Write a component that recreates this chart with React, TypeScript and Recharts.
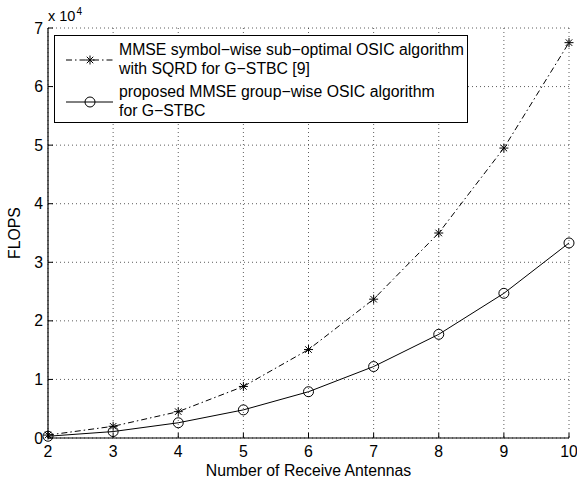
import { LineChart, Line, XAxis, YAxis, CartesianGrid } from 'recharts';

const antennas = [2, 3, 4, 5, 6, 7, 8, 9, 10];
// FLOPS in units of 1e4
const symbolWise = [0.05, 0.2, 0.45, 0.88, 1.51, 2.37, 3.5, 4.95, 6.75];
const groupWise = [0.03, 0.11, 0.26, 0.48, 0.79, 1.22, 1.77, 2.47, 3.33];
const xTicks = [2, 3, 4, 5, 6, 7, 8, 9, 10];
const yTicks = [0, 1, 2, 3, 4, 5, 6, 7];
const legendLabels = [
  ['MMSE symbol\u2212wise sub\u2212optimal OSIC algorithm', 'with SQRD for G\u2212STBC [9]'],
  ['proposed MMSE group\u2212wise OSIC algorithm', 'for G\u2212STBC'],
];

const data = antennas.map((n, i) => ({ n, sym: symbolWise[i], grp: groupWise[i] }));

const FONT = '"Liberation Sans", Arial, Helvetica, sans-serif';
const FS = 15.8;
const TICK_LEN = 5;

function Star(props: any) {
  const { cx, cy } = props;
  if (cx == null || cy == null) return null;
  const r = 4.5;
  const d = r * 0.72;
  return (
    <g stroke="#000" strokeWidth={1}>
      <line x1={cx - r} y1={cy} x2={cx + r} y2={cy} />
      <line x1={cx} y1={cy - r} x2={cx} y2={cy + r} />
      <line x1={cx - d} y1={cy - d} x2={cx + d} y2={cy + d} />
      <line x1={cx - d} y1={cy + d} x2={cx + d} y2={cy - d} />
    </g>
  );
}

function Circle(props: any) {
  const { cx, cy } = props;
  if (cx == null || cy == null) return null;
  return <circle cx={cx} cy={cy} r={5} fill="none" stroke="#000" strokeWidth={1} />;
}

function BottomTick(props: any) {
  const { x, y, payload } = props;
  return (
    <g>
      <line x1={x} y1={y} x2={x} y2={y - TICK_LEN} stroke="#000" />
      <text x={x} y={y + 19} textAnchor="middle" fontSize={FS} fontFamily={FONT} fill="#000">
        {payload.value}
      </text>
    </g>
  );
}

function TopTick(props: any) {
  const { x, y } = props;
  return <line x1={x} y1={y} x2={x} y2={y + TICK_LEN} stroke="#000" />;
}

function LeftTick(props: any) {
  const { x, y, payload } = props;
  return (
    <g>
      <line x1={x} y1={y} x2={x + TICK_LEN} y2={y} stroke="#000" />
      <text x={x - 5} y={y + 5.5} textAnchor="end" fontSize={FS} fontFamily={FONT} fill="#000">
        {payload.value}
      </text>
    </g>
  );
}

function RightTick(props: any) {
  const { x, y } = props;
  return <line x1={x} y1={y} x2={x - TICK_LEN} y2={y} stroke="#000" />;
}

function LegendBox() {
  return (
    <div
      style={{
        position: 'absolute',
        left: 54,
        top: 35,
        width: 414,
        height: 88,
        border: '1.2px solid #000',
        background: '#fff',
        fontFamily: FONT,
        fontSize: FS,
        lineHeight: '19px',
        boxSizing: 'border-box',
        whiteSpace: 'nowrap',
      }}
    >
      <svg width={60} height={87} style={{ position: 'absolute', left: 0, top: 0 }}>
        <line x1={11} y1={24} x2={58} y2={24} stroke="#000" strokeDasharray="6 3 1.5 3" />
        <Star cx={35} cy={24} />
        <line x1={11} y1={66} x2={58} y2={66} stroke="#000" />
        <Circle cx={35} cy={66} />
      </svg>
      <div style={{ position: 'absolute', left: 64, top: 4 }}>
        {legendLabels[0][0]}
        <br />
        {legendLabels[0][1]}
      </div>
      <div style={{ position: 'absolute', left: 64, top: 46 }}>
        {legendLabels[1][0]}
        <br />
        {legendLabels[1][1]}
      </div>
    </div>
  );
}

export default function App() {
  return (
    <div style={{ position: 'absolute', left: 0, top: 0, width: 577, height: 483, background: '#fff' }}>
      <LineChart
        width={577}
        height={483}
        data={data}
        margin={{ top: 28, right: 8, left: 0, bottom: 0 }}
      >
        <CartesianGrid
          stroke="#333"
          strokeDasharray="1 3"
          strokeWidth={0.8}
          xAxisId="b"
          yAxisId="l"
          horizontalValues={yTicks}
          verticalValues={xTicks}
        />
        <XAxis
          xAxisId="b"
          dataKey="n"
          type="number"
          domain={[2, 10]}
          ticks={xTicks}
          orientation="bottom"
          height={45}
          axisLine={{ stroke: '#000', strokeWidth: 1.2 }}
          tickLine={false}
          tickSize={0}
          tickMargin={0}
          tick={<BottomTick />}
          interval={0}
        />
        <XAxis
          xAxisId="t"
          dataKey="n"
          type="number"
          domain={[2, 10]}
          ticks={xTicks}
          orientation="top"
          height={0}
          axisLine={{ stroke: '#000', strokeWidth: 1.2 }}
          tickLine={false}
          tickSize={0}
          tickMargin={0}
          tick={<TopTick />}
          interval={0}
        />
        <YAxis
          yAxisId="l"
          type="number"
          domain={[0, 7]}
          ticks={yTicks}
          orientation="left"
          width={48}
          axisLine={{ stroke: '#000', strokeWidth: 1.2 }}
          tickLine={false}
          tickSize={0}
          tickMargin={0}
          tick={<LeftTick />}
          interval={0}
          label={{
            value: 'FLOPS',
            angle: -90,
            position: 'insideLeft',
            offset: 14,
            style: { fontFamily: FONT, fontSize: FS, fill: '#000', textAnchor: 'middle' },
          }}
        />
        <YAxis
          yAxisId="r"
          type="number"
          domain={[0, 7]}
          ticks={yTicks}
          orientation="right"
          width={0}
          axisLine={{ stroke: '#000', strokeWidth: 1.2 }}
          tickLine={false}
          tickSize={0}
          tickMargin={0}
          tick={<RightTick />}
          interval={0}
        />
        <Line
          xAxisId="b"
          yAxisId="l"
          type="linear"
          dataKey="sym"
          stroke="#000"
          strokeWidth={1}
          strokeDasharray="6 3 1.5 3"
          dot={<Star />}
          activeDot={false}
          isAnimationActive={false}
        />
        <Line
          xAxisId="b"
          yAxisId="l"
          type="linear"
          dataKey="grp"
          stroke="#000"
          strokeWidth={1}
          dot={<Circle />}
          activeDot={false}
          isAnimationActive={false}
        />
      </LineChart>
      <LegendBox />
      <div
        style={{
          position: 'absolute',
          left: 48,
          top: 7,
          fontFamily: FONT,
          fontSize: 14.5,
          lineHeight: '18px',
          whiteSpace: 'nowrap',
        }}
      >
        x 10<sup style={{ fontSize: 10, verticalAlign: 'top', position: 'relative', top: -4, marginLeft: 1 }}>4</sup>
      </div>
      <div
        style={{
          position: 'absolute',
          left: 48,
          width: 521,
          top: 462,
          textAlign: 'center',
          fontFamily: FONT,
          fontSize: FS,
          lineHeight: '18px',
        }}
      >
        Number of Receive Antennas
      </div>
    </div>
  );
}
